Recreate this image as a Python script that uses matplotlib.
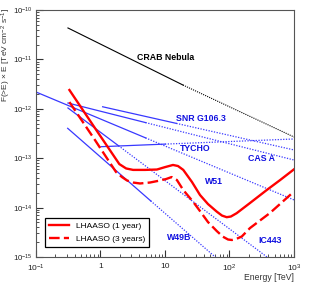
import numpy as np
import matplotlib
matplotlib.use('Agg')
import matplotlib.pyplot as plt
from matplotlib.ticker import FixedLocator, FixedFormatter

plt.rcParams['font.family'] = ['Liberation Sans', 'DejaVu Sans']
plt.rcParams['mathtext.fontset'] = 'custom'
plt.rcParams['mathtext.rm'] = 'Liberation Sans'
plt.rcParams['mathtext.it'] = 'Liberation Sans'

# LHAASO integral sensitivity, F(>E) x E [TeV cm^-2 s^-1]
lhaaso_E = [0.33, 0.82, 1.96, 2.5, 3.2, 4.9, 7.5, 10, 13.3, 15.9, 19.2, 26.2, 34.9,
            46.4, 63.4, 76.5, 90.5, 105, 129, 208, 378, 607, 1000]
lhaaso_1yr = [2.40e-12, 4.08e-13, 7.6e-14, 6.2e-14, 5.8e-14, 5.8e-14, 5.9e-14, 6.6e-14,
              7.3e-14, 6.95e-14, 5.8e-14, 3.3e-14, 1.80e-14, 1.18e-14, 8.3e-15, 6.9e-15,
              6.4e-15, 6.6e-15, 7.7e-15, 1.24e-14, 2.27e-14, 3.6e-14, 5.96e-14]
lhaaso3_E = [0.33, 0.82, 1.74, 2.15, 2.58, 3.2, 4.1, 5.85, 8.4, 10.4, 12.7, 15.3, 19.2,
             27.2, 34.9, 46.4, 63.4, 79, 95, 109, 126, 155, 208, 425, 1000]
lhaaso_3yr = [1.37e-12, 2.34e-13, 5.26e-14, 4.16e-14, 3.54e-14, 3.22e-14, 3.08e-14,
              3.22e-14, 3.54e-14, 3.79e-14, 4.16e-14, 3.62e-14, 2.27e-14, 1.32e-14,
              8.5e-15, 5.1e-15, 3.36e-15, 2.58e-15, 2.26e-15, 2.21e-15, 2.31e-15,
              2.60e-15, 3.86e-15, 7.8e-15, 2.12e-14]

# sources: [start, end of measured range] and [end of measured range, extrapolation end]
crab_E = [0.313, 19, 1000]
crab_F = [4.33e-11, 3.03e-12, 2.69e-13]

src_names = ['W51', 'CAS A', 'SNR G106.3', 'TYCHO', 'IC443', 'W49B']
src_E = [[0.1, 5, 1000], [0.313, 5, 1000], [1.08, 15, 1000],
         [1.02, 10, 1000], [0.313, 1.9, 1000], [0.31, 6, 100]]
src_F = [[2.19e-12, 2.58e-13, 1.43e-14], [1.31e-12, 5.26e-13, 9.2e-14],
         [1.10e-12, 5.07e-13, 1.47e-13], [1.71e-13, 1.93e-13, 2.45e-13],
         [1.04e-12, 1.79e-13, 3.9e-16], [4.03e-13, 1.37e-14, 5.6e-16]]
label_E = [41.7, 194, 14.8, 17.1, 277, 10.7]
label_F = [3.3e-14, 1.0e-13, 6.5e-13, 1.6e-13, 2.2e-15, 2.5e-15]

blue = '#3838ff'
fig = plt.figure(figsize=(3.14, 2.91), dpi=100)
ax = fig.add_axes([0.1146, 0.1168, 0.8217, 0.8488])
ax.set_xscale('log')
ax.set_yscale('log')
ax.set_xlim(0.1, 1000)
ax.set_ylim(1e-15, 1e-10)

ax.plot(crab_E[:2], crab_F[:2], color='black', lw=0.8)
ax.plot(crab_E[1:], crab_F[1:], color='black', lw=0.8, ls=(0, (1, 1)))
ax.text(3.7, 1.1e-11, 'CRAB Nebula', fontsize=6.3, fontweight='bold', va='center')

for name, e, f, le, lf in zip(src_names, src_E, src_F, label_E, label_F):
    ax.plot(e[:2], f[:2], color=blue, lw=0.9)
    ax.plot(e[1:], f[1:], color=blue, lw=0.9, ls=(0, (1, 1.2)))
    ax.text(le, lf, name, fontsize=6.3, fontweight='bold', color='#1010e0', va='center')

ax.plot(lhaaso_E, lhaaso_1yr, color='red', lw=1.7, label='LHAASO (1 year)')
ax.plot(lhaaso3_E, lhaaso_3yr, color='red', lw=1.7, ls=(0, (4.5, 1.8)),
        label='LHAASO (3 years)')

ax.xaxis.set_major_locator(FixedLocator([0.1, 1, 10, 100, 1000]))
ax.xaxis.set_major_formatter(FixedFormatter(['$10^{-1}$', '1', '10', '$10^{2}$', '$10^{3}$']))
ax.yaxis.set_major_locator(FixedLocator([1e-15, 1e-14, 1e-13, 1e-12, 1e-11, 1e-10]))
ax.yaxis.set_major_formatter(FixedFormatter(['$10^{-15}$', '$10^{-14}$', '$10^{-13}$',
                                             '$10^{-12}$', '$10^{-11}$', '$10^{-10}$']))
ax.tick_params(which='both', direction='in', top=False, right=False,
               labelsize=6, colors='#333333', labelcolor='#222222')
ax.tick_params(which='major', length=5, width=0.8)
ax.tick_params(which='minor', length=2.5, width=0.6)
ax.tick_params(axis='x', pad=4)
ax.tick_params(axis='y', pad=2.5, labelsize=5.6)
for s in ax.spines.values():
    s.set_color('#555555')
    s.set_linewidth(0.8)

ax.set_ylabel('F(>E) × E [TeV cm$^{-2}$ s$^{-1}$]', loc='top', fontsize=6, color='#333333')
ax.yaxis.set_label_coords(-0.09, 1.01)
ax.set_xlabel('Energy [TeV]', loc='right', fontsize=6.2, color='#333333')
ax.xaxis.set_label_coords(1.0, -0.065)

leg = ax.legend(loc='lower left', bbox_to_anchor=(0.035, 0.04), borderaxespad=0,
                fancybox=False, edgecolor='black', fontsize=6, handlelength=2.4,
                framealpha=1, borderpad=0.5, labelspacing=0.6)
leg.get_frame().set_linewidth(0.9)

plt.savefig('out.png', dpi=100)
